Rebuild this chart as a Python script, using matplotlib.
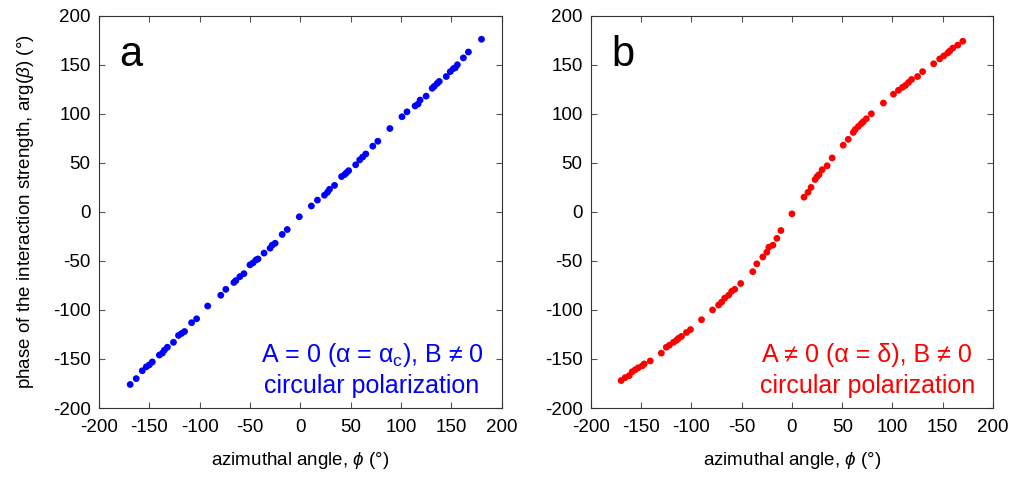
import numpy as np
import matplotlib
matplotlib.use("Agg")
import matplotlib.pyplot as plt

plt.rcParams['font.family'] = ['Liberation Sans', 'DejaVu Sans']
plt.rcParams['mathtext.fontset'] = 'custom'
plt.rcParams['mathtext.rm'] = 'Liberation Sans'
plt.rcParams['mathtext.it'] = 'Liberation Sans:italic'
plt.rcParams['axes.unicode_minus'] = False

# panel a: A = 0, B != 0
phi_a = [-169, -163, -157, -153, -150, -147, -140, -137, -135, -132, -126, -121, -118, -115,
         -108, -103, -92, -79, -74, -66, -64, -60, -56, -50, -47, -44, -42, -36, -30, -28,
         -25, -18, -13, -1, 11, 17, 24, 27, 29, 34, 41, 44, 46, 48, 55, 59, 62, 65, 72, 77,
         89, 101, 106, 114, 117, 119, 125, 131, 133, 136, 138, 145, 149, 152, 154, 156,
         162, 167, 180]
arg_a = [-176, -170, -162, -158, -156, -153, -146, -144, -141, -138, -133, -126, -124, -122,
         -113, -109, -96, -85, -79, -72, -70, -66, -63, -54, -52, -49, -48, -42, -37, -34,
         -32, -23, -18, -5, 6, 12, 17, 20, 23, 27, 36, 38, 40, 42, 48, 53, 56, 59, 67, 72,
         85, 97, 102, 108, 110, 114, 118, 126, 128, 131, 133, 138, 143, 146, 147, 150,
         157, 163, 176]

# panel b: A != 0, B != 0
phi_b = [-170, -166, -162, -159, -156, -153, -149, -147, -141, -130, -125, -122, -118, -115,
         -113, -110, -105, -101, -90, -79, -73, -70, -67, -63, -60, -57, -51, -39, -35, -29,
         -25, -23, -19, -15, -11, 0, 12, 16, 19, 23, 25, 27, 30, 35, 40, 51, 56, 61, 63, 66,
         69, 71, 74, 79, 91, 101, 106, 110, 113, 116, 119, 125, 130, 141, 147, 151, 155,
         157, 160, 165, 170]
arg_b = [-172, -169, -167, -163, -161, -159, -157, -155, -152, -144, -138, -136, -133, -131,
         -129, -127, -123, -120, -110, -100, -95, -92, -88, -85, -81, -79, -73, -61, -53, -46,
         -41, -36, -34, -27, -19, -2, 15, 20, 25, 33, 36, 38, 43, 47, 55, 68, 74, 81, 84, 87,
         90, 92, 95, 100, 111, 120, 124, 127, 129, 132, 135, 138, 143, 151, 156, 159, 162,
         164, 167, 170, 174]

ticks = [-200, -150, -100, -50, 0, 50, 100, 150, 200]

fig = plt.figure(figsize=(10.13, 4.78), dpi=100)
ax_a = fig.add_axes([0.0977, 0.1464, 0.3975, 0.8207])
ax_b = fig.add_axes([0.5834, 0.1464, 0.3968, 0.8207])

panels = [(ax_a, phi_a, arg_a, '#0000ff', 'a', 0.678,
           'A = 0 (α = α$_\\mathrm{c}$), B ≠ 0'),
          (ax_b, phi_b, arg_b, '#ff0000', 'b', 0.687,
           'A ≠ 0 (α = δ), B ≠ 0')]

for ax, x, y, col, letter, xc, note in panels:
    ax.scatter(x, y, s=24, color=col, edgecolors='none', zorder=3)
    ax.set_xlim(-200, 200)
    ax.set_ylim(-200, 200)
    ax.set_xticks(ticks)
    ax.set_yticks(ticks)
    ax.tick_params(direction='in', top=True, right=True, length=4, width=0.8,
                   labelsize=13.5, color='#555555')
    ax.tick_params(axis='x', pad=8)
    ax.tick_params(axis='y', pad=6)
    for sp in ax.spines.values():
        sp.set_linewidth(0.8)
        sp.set_color('#333333')
    ax.set_xlabel('azimuthal angle, $\\mathit{\\phi}$ (°)', fontsize=13.5, labelpad=10)
    ax.text(0.05, 0.95, letter, transform=ax.transAxes, fontsize=30,
            ha='left', va='top')
    ax.text(xc, 0.117, note, transform=ax.transAxes, fontsize=18, color=col,
            ha='center', va='baseline')
    ax.text(xc, 0.038, 'circular polarization', transform=ax.transAxes, fontsize=18,
            color=col, ha='center', va='baseline')

ax_a.set_ylabel('phase of the interaction strength, arg($\\mathit{\\beta}$) (°)',
                fontsize=13.5, labelpad=12)

fig.savefig('out.png', dpi=100)
